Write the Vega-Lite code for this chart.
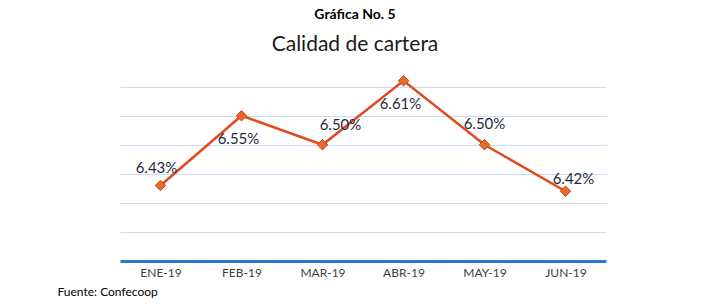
{
  "$schema": "https://vega.github.io/schema/vega-lite/v6.json",
  "autosize": {"type": "none"},
  "width": 486,
  "height": 186,
  "padding": {"left": 120, "top": 75, "right": 114, "bottom": 47},
  "background": "white",
  "config": {"view": {"stroke": null}, "font": "Lato"},
  "title": {
    "text": "Gráfica No. 5",
    "subtitle": "Calidad de cartera",
    "anchor": "middle",
    "dx": -8,
    "fontSize": 14,
    "fontWeight": "bold",
    "color": "#000000",
    "subtitleFontSize": 21,
    "subtitleColor": "#1a1a1a",
    "subtitlePadding": 12,
    "offset": 19
  },
  "data": {
    "values": [
      {"mes": "ENE-19", "valor": 0.0643},
      {"mes": "FEB-19", "valor": 0.0655},
      {"mes": "MAR-19", "valor": 0.0650},
      {"mes": "ABR-19", "valor": 0.0661},
      {"mes": "MAY-19", "valor": 0.0650},
      {"mes": "JUN-19", "valor": 0.0642}
    ]
  },
  "encoding": {
    "x": {
      "field": "mes",
      "type": "nominal",
      "sort": null,
      "scale": {"type": "point", "padding": 0.5},
      "axis": {
        "labelAngle": 0,
        "labelFontSize": 12,
        "labelColor": "#404040",
        "labelPadding": 6,
        "ticks": false,
        "domainColor": "#2b78cf",
        "domainWidth": 3,
        "grid": false,
        "title": "Fuente: Confecoop",
        "titleAnchor": "start",
        "titleAlign": "left",
        "titleBaseline": "middle",
        "titleX": -63,
        "titleY": 30,
        "titleFontSize": 12,
        "titleFontWeight": "normal",
        "titleColor": "#000000"
      }
    },
    "y": {
      "field": "valor",
      "type": "quantitative",
      "scale": {"domain": [0.0630, 0.0662], "zero": false, "nice": false},
      "axis": {
        "values": [0.0635, 0.0640, 0.0645, 0.0650, 0.0655, 0.0660],
        "labels": false,
        "ticks": false,
        "domain": false,
        "title": null,
        "grid": true,
        "gridColor": "#c9d9ef",
        "gridWidth": 1
      }
    }
  },
  "layer": [
    {"mark": {"type": "line", "color": "#e04a1f", "strokeWidth": 2.5}},
    {"mark": {"type": "point", "shape": "diamond", "filled": true, "size": 110, "color": "#ea6a2c", "stroke": "#c4461c", "strokeWidth": 1, "opacity": 1}},
    {
      "transform": [{"filter": "datum.mes == 'ENE-19'"}],
      "mark": {"type": "text", "fontSize": 15, "color": "#1f2a3a", "dy": -17, "dx": -4},
      "encoding": {"text": {"field": "valor", "type": "quantitative", "format": ".2%"}}
    },
    {
      "transform": [{"filter": "datum.mes == 'MAY-19'"}],
      "mark": {"type": "text", "fontSize": 15, "color": "#1f2a3a", "dy": -21},
      "encoding": {"text": {"field": "valor", "type": "quantitative", "format": ".2%"}}
    },
    {
      "transform": [{"filter": "datum.mes == 'MAR-19'"}],
      "mark": {"type": "text", "fontSize": 15, "color": "#1f2a3a", "dy": -20, "dx": 18},
      "encoding": {"text": {"field": "valor", "type": "quantitative", "format": ".2%"}}
    },
    {
      "transform": [{"filter": "datum.mes == 'JUN-19'"}],
      "mark": {"type": "text", "fontSize": 15, "color": "#1f2a3a", "dy": -12, "dx": 8},
      "encoding": {"text": {"field": "valor", "type": "quantitative", "format": ".2%"}}
    },
    {
      "transform": [{"filter": "datum.mes == 'FEB-19' || datum.mes == 'ABR-19'"}],
      "mark": {"type": "text", "fontSize": 15, "color": "#1f2a3a", "dy": 23, "dx": -3},
      "encoding": {"text": {"field": "valor", "type": "quantitative", "format": ".2%"}}
    }
  ]
}
